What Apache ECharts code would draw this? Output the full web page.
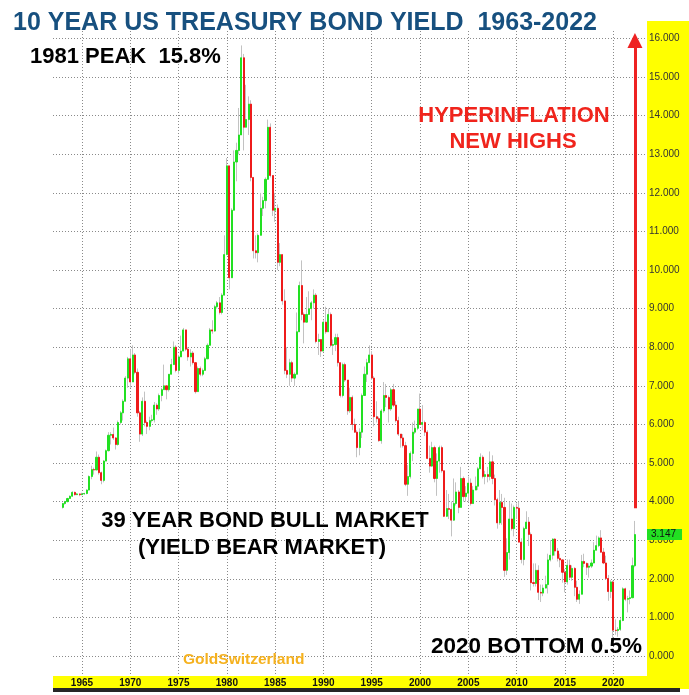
<!DOCTYPE html>
<html><head><meta charset="utf-8">
<script src="https://cdn.jsdelivr.net/npm/echarts@6/dist/echarts.min.js"></script>
<style>html,body{margin:0;padding:0;background:#fff}#c{width:689px;height:695px}</style>
</head><body><div id="c"></div>
<script>
// Quarterly categories 1962-Q1 .. 2023-Q3
const categories = [];
for (let y = 1962; y <= 2023; y++) for (let q = 1; q <= 4; q++) { if (y === 2023 && q > 3) break; categories.push(y + '-Q' + q); }
const firstQuarterIndex = 4; // 1963-Q1
const tickYears = ['1965','1970','1975','1980','1985','1990','1995','2000','2005','2010','2015','2020'];

// Quarterly OHLC, 1963-Q1 .. 2022-Q2 (10Y US Treasury yield, %)
const opens = [
3.85,3.95,4.00,4.08, 4.14,4.24,4.18,4.20, 4.18,4.20,4.21,4.30, 4.65,4.83,4.82,5.15, 4.75,4.55,5.05,5.32,
5.72,5.74,5.65,5.48, 6.05,6.30,6.60,7.20, 7.70,7.10,7.80,7.35, 6.30,5.75,6.60,6.05, 5.95,6.10,6.12,6.50,
6.40,6.75,6.90,7.00, 6.90,7.30,7.55,8.00, 7.40,7.75,7.90,8.45, 7.95,7.75,7.85,7.60, 6.85,7.45,7.30,7.40,
7.70,8.05,8.45,8.42, 9.05,9.15,8.90,9.35, 10.40,12.70,9.80,11.55, 12.80,13.10,13.50,15.50, 13.70,13.90,14.30,12.40,
10.50,10.45,10.90,11.60, 11.80,12.35,13.70,12.45, 11.55,11.60,10.20,10.40, 9.20,7.40,7.30,7.60, 7.20,7.30,8.40,9.60,
8.85,8.65,8.85,9.00, 9.15,9.35,8.15,8.20, 7.90,8.65,8.40,8.85, 8.05,8.07,8.25,7.60, 6.75,7.55,7.15,6.35,
6.70,6.00,5.80,5.40, 5.80,6.75,7.30,7.60, 7.80,7.20,6.20,6.15, 5.58,6.35,6.75,6.70, 6.40,6.90,6.50,6.10,
5.75,5.65,5.45,4.45, 4.65,5.25,5.80,5.90, 6.40,6.00,6.05,5.80, 5.12,4.92,5.40,4.60, 5.05,5.40,4.80,3.62,
3.82,3.80,3.52,3.95, 4.25,3.85,4.60,4.13, 4.22,4.48,3.95,4.30, 4.40,4.85,5.15,4.65, 4.70,4.65,5.03,4.60,
4.05,3.45,3.98,3.85, 2.22,2.68,3.55,3.30, 3.85,3.83,2.95,2.50, 3.30,3.47,3.15,1.90, 1.88,2.22,1.65,1.63,
1.76,1.85,2.49,2.61, 3.03,2.72,2.53,2.49, 2.17,1.92,2.35,2.04, 2.27,1.78,1.47,1.60, 2.45,2.40,2.30,2.33,
2.41,2.74,2.86,3.06, 2.69,2.41,2.01,1.67, 1.92,0.67,0.66,0.69, 0.92,1.74,1.47,1.49, 1.51,2.34];
const highs = [
3.97,4.02,4.10,4.16, 4.27,4.26,4.22,4.21, 4.23,4.23,4.32,4.68, 4.93,4.88,5.30,5.22, 4.78,5.08,5.35,5.80,
5.80,5.92,5.67,6.10, 6.35,6.65,7.25,7.75, 7.95,8.05,7.85,7.45, 6.35,6.70,6.85,6.10, 6.20,6.25,6.58,6.55,
6.80,6.95,7.55,7.00, 7.30,7.70,8.15,8.05, 7.80,8.30,8.50,8.45, 8.00,7.95,7.90,7.60, 7.50,7.50,7.45,7.75,
8.10,8.50,8.70,9.10, 9.20,9.30,9.40,10.90, 12.90,12.70,11.60,13.10, 13.30,14.20,15.82,15.60, 14.80,14.50,14.40,12.40,
10.90,10.95,12.00,11.90, 12.40,13.90,13.80,12.45, 12.00,11.70,10.70,10.40, 9.50,8.00,7.70,7.65, 7.35,8.90,9.70,10.25,
8.90,9.30,9.45,9.20, 9.50,9.40,8.35,8.20, 8.70,9.05,9.00,8.90, 8.20,8.35,8.35,7.60, 7.60,7.60,7.15,6.95,
6.75,6.15,5.85,5.90, 6.80,7.50,7.70,8.05, 7.90,7.25,6.60,6.20, 6.40,7.10,7.05,6.75, 6.95,7.05,6.60,6.20,
5.75,5.75,5.55,4.95, 5.30,6.05,6.10,6.40, 6.80,6.50,6.10,5.85, 5.45,5.55,5.45,5.25, 5.45,5.45,4.80,4.30,
4.20,4.00,4.60,4.50, 4.30,4.90,4.65,4.40, 4.65,4.60,4.40,4.65, 4.90,5.25,5.20,4.80, 4.90,5.30,5.20,4.70,
4.10,4.30,4.20,4.10, 3.05,4.00,3.95,3.90, 3.95,4.00,3.05,3.35, 3.75,3.60,3.20,2.40, 2.40,2.35,1.85,1.85,
2.08,2.65,3.00,3.05, 3.05,2.80,2.65,2.50, 2.25,2.50,2.50,2.35, 2.30,1.95,1.70,2.62, 2.65,2.42,2.40,2.50,
2.95,3.12,3.10,3.26, 2.80,2.60,2.10,1.97, 1.95,0.95,0.75,0.98, 1.78,1.77,1.56,1.70, 2.55,3.50];
const lows = [
3.82,3.92,3.98,4.08, 4.13,4.16,4.17,4.14, 4.17,4.18,4.19,4.29, 4.58,4.70,4.82,4.70, 4.45,4.50,5.05,5.30,
5.48,5.60,5.35,5.45, 6.00,6.10,6.60,6.95, 6.95,7.10,7.30,6.20, 5.55,5.70,5.95,5.75, 5.85,6.05,6.05,6.25,
6.35,6.60,6.90,6.65, 6.85,7.30,7.55,7.35, 7.30,7.75,7.90,7.90, 7.65,7.50,7.55,6.80, 6.85,7.25,7.25,7.40,
7.70,8.05,8.35,8.40, 9.00,8.85,8.85,9.35, 10.40,9.50,9.80,11.55, 12.30,13.00,13.50,13.10, 13.70,13.50,12.30,10.30,
10.30,10.20,10.90,11.40, 11.60,12.35,12.40,11.40, 11.25,10.00,10.10,9.10, 7.30,7.20,7.00,7.10, 7.00,7.30,8.40,8.70,
8.10,8.65,8.85,8.70, 9.00,8.10,7.80,7.75, 7.90,8.35,8.40,8.00, 7.80,7.90,7.50,6.70, 6.70,7.10,6.25,6.30,
5.85,5.78,5.15,5.20, 5.65,6.75,7.10,7.60, 7.15,5.95,6.05,5.55, 5.50,6.30,6.45,6.05, 6.35,6.45,6.05,5.70,
5.40,5.40,4.40,4.15, 4.60,5.05,5.75,5.85, 6.00,5.85,5.70,5.10, 4.75,4.90,4.50,4.15, 4.75,4.75,3.60,3.60,
3.55,3.10,3.50,3.90, 3.70,3.85,4.00,4.00, 4.00,3.90,3.95,4.30, 4.30,4.85,4.60,4.45, 4.50,4.55,4.45,3.90,
3.30,3.40,3.40,2.05, 2.10,2.50,3.25,3.10, 3.55,2.95,2.40,2.35, 3.30,2.85,1.70,1.80, 1.80,1.45,1.40,1.55,
1.75,1.62,2.45,2.50, 2.60,2.45,2.30,1.90, 1.65,1.85,2.00,1.95, 1.55,1.40,1.35,1.60, 2.30,2.10,2.03,2.28,
2.40,2.74,2.82,2.68, 2.38,1.98,1.43,1.50, 0.32,0.55,0.50,0.65, 0.90,1.42,1.13,1.34, 1.50,2.30];
const closes = [
3.95,4.00,4.08,4.14, 4.24,4.18,4.20,4.18, 4.20,4.21,4.30,4.65, 4.83,4.82,5.15,4.75, 4.55,5.05,5.32,5.72,
5.74,5.65,5.48,6.05, 6.30,6.60,7.20,7.70, 7.10,7.80,7.35,6.30, 5.75,6.60,6.05,5.95, 6.10,6.12,6.50,6.40,
6.75,6.90,7.00,6.90, 7.30,7.55,8.00,7.40, 7.75,7.90,8.45,7.95, 7.75,7.85,7.60,6.85, 7.45,7.30,7.40,7.70,
8.05,8.45,8.42,9.05, 9.15,8.90,9.35,10.40, 12.70,9.80,11.55,12.80, 13.10,13.50,15.50,13.70, 13.90,14.30,12.40,10.50,
10.45,10.90,11.60,11.80, 12.35,13.70,12.45,11.55, 11.60,10.20,10.40,9.20, 7.40,7.30,7.60,7.20, 7.30,8.40,9.60,8.85,
8.65,8.85,9.00,9.15, 9.35,8.15,8.20,7.90, 8.65,8.40,8.85,8.05, 8.07,8.25,7.60,6.75, 7.55,7.15,6.35,6.70,
6.00,5.80,5.40,5.80, 6.75,7.30,7.60,7.80, 7.20,6.20,6.15,5.58, 6.35,6.75,6.70,6.40, 6.90,6.50,6.10,5.75,
5.65,5.45,4.45,4.65, 5.25,5.80,5.90,6.40, 6.00,6.05,5.80,5.12, 4.92,5.40,4.60,5.05, 5.40,4.80,3.62,3.82,
3.80,3.52,3.95,4.25, 3.85,4.60,4.13,4.22, 4.48,3.95,4.30,4.40, 4.85,5.15,4.65,4.70, 4.65,5.03,4.60,4.05,
3.45,3.98,3.85,2.22, 2.68,3.55,3.30,3.85, 3.83,2.95,2.50,3.30, 3.47,3.15,1.90,1.88, 2.22,1.65,1.63,1.76,
1.85,2.49,2.61,3.03, 2.72,2.53,2.49,2.17, 1.92,2.35,2.04,2.27, 1.78,1.47,1.60,2.45, 2.40,2.30,2.33,2.41,
2.74,2.86,3.06,2.69, 2.41,2.01,1.67,1.92, 0.67,0.66,0.69,0.92, 1.74,1.47,1.49,1.51, 2.34,3.147];

// Annotation values
const arrowQuarter = '2022-Q2';
const arrowFrom = 3.83, arrowTo = 15.95;

const FONT = '"Liberation Sans", Arial, Helvetica, sans-serif';
const rows = opens.map((o, i) => [categories[i + firstQuarterIndex], o, closes[i], lows[i], highs[i]]);
const bodyRows = opens.map((o, i) => [categories[i + firstQuarterIndex], o, closes[i], Math.min(o, closes[i]), Math.max(o, closes[i])]);
const isTick = (idx, v) => { const s = String(v); return s.endsWith('-Q1') && tickYears.includes(s.slice(0, 4)); };
const grid = '#8a8a8a';
const lastClose = closes[closes.length - 1];
const GREEN = '#22e022', RED = '#ee1b1b', WICK = '#c2c2c2';

const chart = echarts.init(document.getElementById('c'), null, { renderer: 'canvas' });
chart.setOption({
  animation: false,
  backgroundColor: '#ffffff',
  textStyle: { fontFamily: FONT },
  grid: [
    { left: 53, right: 42, top: 31, bottom: 19 },
    { left: 53, right: 42, top: 38.5, bottom: 39 }
  ],
  xAxis: [
    { gridIndex: 0, type: 'category', data: categories, boundaryGap: false,
      axisLine: { show: false }, axisTick: { show: false },
      axisLabel: { interval: isTick, formatter: v => v.slice(0, 4), fontSize: 10, fontWeight: 'bold', color: '#111', margin: 2, fontFamily: FONT },
      splitLine: { show: true, interval: isTick, lineStyle: { color: grid, type: [1, 2], width: 1 } } },
    { gridIndex: 1, type: 'value', min: 0, max: 1, show: false }
  ],
  yAxis: [
    { gridIndex: 0, type: 'value', min: -0.518, max: 16.194, show: false, splitLine: { show: false } },
    { gridIndex: 1, type: 'value', min: 0, max: 16, interval: 1, position: 'right',
      axisLine: { show: false },
      axisTick: { show: true, length: 2, lineStyle: { color: grid, type: [1, 2] } },
      axisLabel: { formatter: v => v.toFixed(3), fontSize: 10, color: '#333', margin: 2, fontFamily: FONT },
      splitLine: { show: true, lineStyle: { color: grid, type: [1, 2], width: 1 } } }
  ],
  series: [
    { type: 'line', xAxisIndex: 1, yAxisIndex: 1, data: [], silent: true },
    { name: 'wicks', type: 'candlestick', xAxisIndex: 0, yAxisIndex: 0, data: rows,
      encode: { x: 0, y: [1, 2, 3, 4] }, barWidth: 1, silent: true,
      itemStyle: { color: WICK, color0: WICK, borderColor: WICK, borderColor0: WICK, borderWidth: 1 } },
    { name: 'bodies', type: 'candlestick', xAxisIndex: 0, yAxisIndex: 0, data: bodyRows,
      encode: { x: 0, y: [1, 2, 3, 4] }, barWidth: 1.6, silent: true,
      itemStyle: { color: GREEN, color0: RED, borderColor: GREEN, borderColor0: RED, borderWidth: 1 },
      markLine: {
        silent: true, symbol: ['none', 'none'], animation: false,
        data: [
          { yAxis: lastClose, lineStyle: { color: 'rgba(0,0,0,0)', width: 0 },
            label: { show: true, position: 'end', formatter: lastClose.toFixed(3), backgroundColor: GREEN, color: '#111', fontSize: 10, padding: [1, 6, 0, 4], distance: 0, fontFamily: FONT } },
          [ { coord: [arrowQuarter, arrowFrom], symbol: 'none' },
            { coord: [arrowQuarter, arrowTo], symbol: 'triangle', symbolSize: [15, 15],
              lineStyle: { color: '#ee2222', width: 3, type: 'solid' }, label: { show: false } } ]
        ],
        lineStyle: { color: '#ee2222', width: 3, type: 'solid' },
        itemStyle: { color: '#ee2222' }
      } }
  ],
  graphic: [
    { type: 'rect', z: -10, shape: { x: 647, y: 21, width: 42, height: 668 }, style: { fill: '#ffff00' } },
    { type: 'rect', z: -10, shape: { x: 53, y: 676, width: 636, height: 12 }, style: { fill: '#ffff00' } },
    { type: 'rect', z: -9, shape: { x: 53, y: 688, width: 627, height: 4 }, style: { fill: '#262626' } },
    { type: 'text', z: 100, x: 13, y: 23, style: { text: '10 YEAR US TREASURY BOND YIELD  1963-2022', font: 'bold 25px ' + FONT, fill: '#17507f', verticalAlign: 'middle' } },
    { type: 'text', z: 100, x: 30, y: 57, style: { text: '1981 PEAK  15.8%', font: 'bold 22px ' + FONT, fill: '#000', verticalAlign: 'middle' } },
    { type: 'text', z: 100, x: 514, y: 116, style: { text: 'HYPERINFLATION', font: 'bold 22px ' + FONT, fill: '#f0241c', align: 'center', verticalAlign: 'middle' } },
    { type: 'text', z: 100, x: 513, y: 142, style: { text: 'NEW HIGHS', font: 'bold 22px ' + FONT, fill: '#f0241c', align: 'center', verticalAlign: 'middle' } },
    { type: 'text', z: 100, x: 265, y: 521, style: { text: '39 YEAR BOND BULL MARKET', font: 'bold 22px ' + FONT, fill: '#000', align: 'center', verticalAlign: 'middle' } },
    { type: 'text', z: 100, x: 262, y: 548, style: { text: '(YIELD BEAR MARKET)', font: 'bold 22px ' + FONT, fill: '#000', align: 'center', verticalAlign: 'middle' } },
    { type: 'text', z: 100, x: 183, y: 660, style: { text: 'GoldSwitzerland', font: 'bold 15.5px ' + FONT, fill: '#f5b11e', verticalAlign: 'middle' } },
    { type: 'text', z: 100, x: 431, y: 647, style: { text: '2020 BOTTOM 0.5%', font: 'bold 22.5px ' + FONT, fill: '#000', verticalAlign: 'middle' } }
  ]
});
</script></body></html>
